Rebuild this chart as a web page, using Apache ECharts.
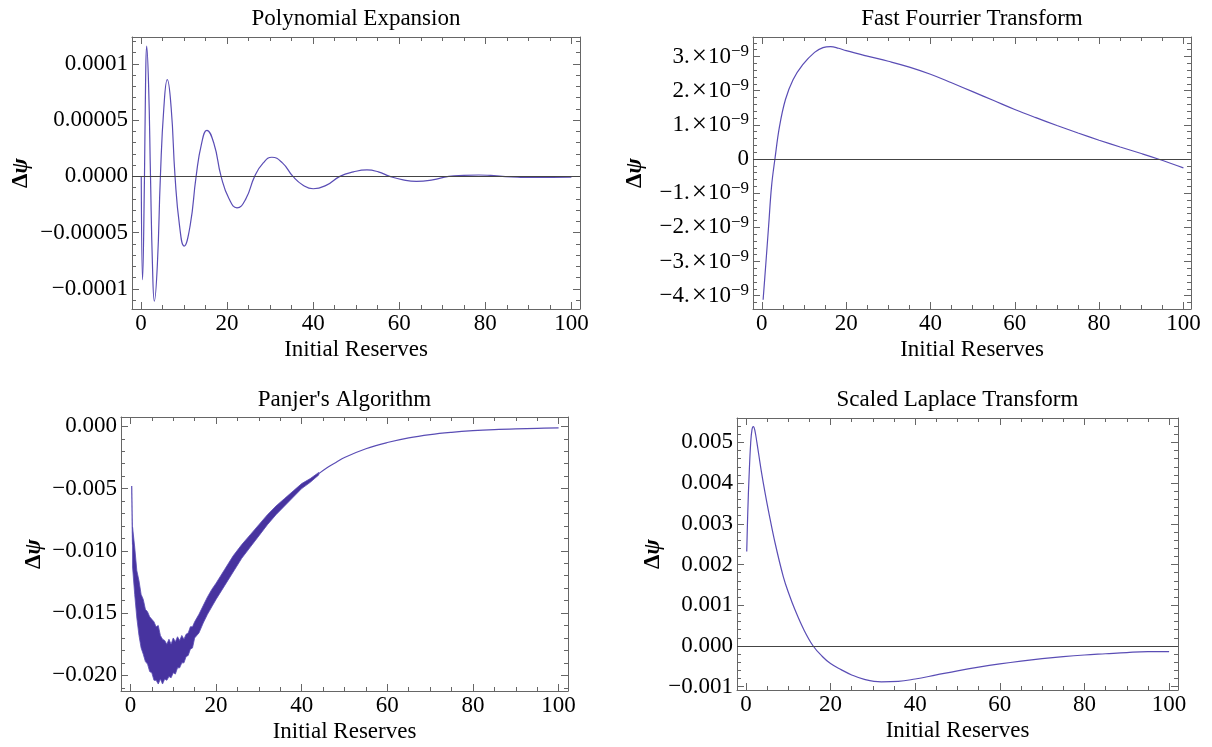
<!DOCTYPE html>
<html>
<head>
<meta charset="utf-8">
<script src="https://cdn.jsdelivr.net/npm/echarts@6.0.0/dist/echarts.min.js"></script>
<style>
  html, body { margin: 0; background: #fff; }
  #chart { width: 1212px; height: 747px; }
</style>
</head>
<body>
<div id="chart"></div>
<script>
// shared x ticks
var xTicks = [0, 20, 40, 60, 80, 100];

// Polynomial Expansion
var polyX = [0.05, 0.35, 0.8, 1.05, 1.31, 1.75, 2.2, 2.65, 3.1, 3.8, 4.5, 5.3, 6.1, 7.0, 7.9, 8.95, 10.0, 11.4, 12.8, 14.05,
  15.3, 16.95, 18.6, 20.45, 22.3, 24.35, 26.4, 28.4, 30.4, 32.85, 35.3, 37.65, 40.0, 43.1, 46.2, 49.35, 52.5, 55.15,
  57.8, 60.9, 64.0, 67.75, 71.5, 75, 78.5, 81.25, 84, 87.5, 91, 95.5, 100];
var polyY = [0, -9.2e-5, 0, 8.2e-5, 11.6e-5, 8.2e-5, 0, -7.8e-5, -11.1e-5, -7.8e-5, 0, 6.1e-5, 8.6e-5, 6.1e-5, 0,
  -4.4e-5, -6.2e-5, -4.4e-5, 0, 2.9e-5, 4.1e-5, 2.9e-5, 0, -2.0e-5, -2.8e-5, -2.0e-5, 0, 1.2e-5, 1.7e-5, 1.2e-5, 0,
  -0.78e-5, -1.1e-5, -0.78e-5, 0, 0.40e-5, 0.57e-5, 0.40e-5, 0, -0.31e-5, -0.44e-5, -0.31e-5, 0, 0.09e-5, 0.12e-5,
  0.08e-5, 0, -0.07e-5, -0.10e-5, -0.09e-5, -0.08e-5];
var polyTicks = [-0.0001, -0.00005, 0, 0.00005, 0.0001];
var polyLabels = ['−0.0001', '−0.00005', '0.0000', '0.00005', '0.0001'];

// Fast Fourrier Transform
var fftX = [0.3, 0.9, 1.6, 2.3, 3.1, 4.2, 5.6, 7.4, 9.7, 12.5, 14.5, 16.3, 18.2, 20, 25, 30, 35, 40, 45, 50, 55, 60, 65,
  70, 75, 80, 85, 90, 94, 100];
var fftY = [-4.12e-9, -3.14e-9, -1.97e-9, -0.8e-9, 0, 0.96e-9, 1.74e-9, 2.32e-9, 2.76e-9, 3.12e-9, 3.26e-9, 3.29e-9,
  3.24e-9, 3.17e-9, 3.01e-9, 2.86e-9, 2.69e-9, 2.48e-9, 2.23e-9, 1.97e-9, 1.71e-9, 1.45e-9, 1.21e-9, 0.98e-9, 0.76e-9,
  0.55e-9, 0.35e-9, 0.16e-9, 0, -0.26e-9];
var fftTicks = [-4e-9, -3e-9, -2e-9, -1e-9, 0, 1e-9, 2e-9, 3e-9];
var fftMantissa = ['−4.', '−3.', '−2.', '−1.', '0', '1.', '2.', '3.'];
var fftExponent = '−9';

// Panjer's Algorithm: noisy band (upper / lower edge), start spike and smooth tail
var panjerX = [0.5, 1, 1.5, 2, 2.5, 3, 3.5, 4, 4.5, 5, 5.5, 6, 6.5, 7, 7.5, 8, 8.5, 9, 9.5, 10, 10.5, 11, 11.5, 12,
  12.5, 13, 13.5, 14, 14.5, 15, 16, 17, 18, 19, 20, 22, 24, 26, 28, 30, 32, 34, 36, 38, 40, 42, 44];
var panjerUpper = [-0.0081, -0.0097, -0.0116, -0.0124, -0.0135, -0.0139, -0.0147, -0.0149, -0.0153, -0.0155, -0.0157,
  -0.0161, -0.0160, -0.0168, -0.0171, -0.0172, -0.0175, -0.0171, -0.0175, -0.0170, -0.0173, -0.0169, -0.0172, -0.0168,
  -0.0171, -0.0167, -0.0166, -0.0161, -0.0161, -0.0157, -0.0151, -0.0144, -0.0137, -0.0131, -0.0126, -0.0115, -0.0104,
  -0.0095, -0.0087, -0.0079, -0.0071, -0.0064, -0.0058, -0.0052, -0.0046, -0.0042, -0.0037];
var panjerLower = [-0.0113, -0.0135, -0.0154, -0.0168, -0.0178, -0.0183, -0.0189, -0.0191, -0.0197, -0.0198, -0.0204,
  -0.0204, -0.0207, -0.0203, -0.0207, -0.0203, -0.0204, -0.0201, -0.0202, -0.0198, -0.0199, -0.0194, -0.0194, -0.0190,
  -0.0190, -0.0185, -0.0184, -0.0179, -0.0178, -0.0170, -0.0166, -0.0158, -0.0151, -0.0145, -0.0139, -0.0128, -0.0117,
  -0.0106, -0.0097, -0.0088, -0.0079, -0.0071, -0.0064, -0.0057, -0.0050, -0.0045, -0.0039];
var panjerSpikeX = [0.3, 0.5];
var panjerSpikeY = [-0.0048, -0.0095];
var panjerTailX = [44, 46, 48, 50, 55, 60, 65, 70, 75, 80, 85, 90, 95, 100];
var panjerTailY = [-0.0038, -0.0033, -0.0029, -0.0025, -0.0018, -0.0013, -0.00092, -0.00066, -0.00048, -0.00035,
  -0.00026, -0.0002, -0.00016, -0.00013];
var panjerTicks = [-0.02, -0.015, -0.01, -0.005, 0];
var panjerLabels = ['−0.020', '−0.015', '−0.010', '−0.005', '0.000'];

// Scaled Laplace Transform
var laplaceX = [0.2, 0.45, 0.75, 1.13, 1.45, 1.77, 2.15, 2.6, 3.1, 3.7, 4.5, 5.3, 6.9, 8.85, 10.2, 11.6, 13.7, 15.9,
  18, 20, 22.5, 25, 28, 32, 36, 40, 45, 50, 55, 60, 65, 70, 75, 80, 85, 90, 95, 100];
var laplaceY = [0.00232, 0.0033, 0.00416, 0.00498, 0.00532, 0.00539, 0.00528, 0.0050, 0.00466, 0.00426, 0.00378,
  0.00334, 0.00253, 0.0017, 0.00127, 0.00089, 0.0004, 0, -0.00025, -0.00043, -0.00058, -0.00071, -0.00082, -0.00088,
  -0.00087, -0.00081, -0.00071, -0.00061, -0.00052, -0.00044, -0.00037, -0.00031, -0.00026, -0.00022, -0.00019,
  -0.00016, -0.00014, -0.00014];
var laplaceTicks = [-0.001, 0, 0.001, 0.002, 0.003, 0.004, 0.005];
var laplaceLabels = ['−0.001', '0.000', '0.001', '0.002', '0.003', '0.004', '0.005'];

var FONT = 'Liberation Serif';
var SIZE = 23;
var CURVE = '#5a4db5';
var BAND = '#47339f';
var FRAME = '#666';

var chart = echarts.init(document.getElementById('chart'));
var grids = [], xAxes = [], yAxes = [], series = [];

function pairs(xs, ys) {
  return xs.map(function (x, i) { return [x, ys[i]]; });
}

function minorTicks(ticks, parts, range) {
  var step = (ticks[1] - ticks[0]) / parts, out = [];
  var k0 = Math.ceil(range[0] / step - 1e-9), k1 = Math.floor(range[1] / step + 1e-9);
  for (var k = k0; k <= k1; k++) {
    if (k % parts !== 0) out.push(k * step);
  }
  return out;
}

function labelFor(ticks, labels) {
  var eps = Math.abs(ticks[1] - ticks[0]) * 1e-6;
  return function (v) {
    for (var i = 0; i < ticks.length; i++) {
      if (Math.abs(ticks[i] - v) < eps) return labels[i];
    }
    return '';
  };
}

function zeroLine() {
  return {
    silent: true, symbol: ['none', 'none'], label: { show: false },
    lineStyle: { color: '#444', width: 1, type: 'solid' },
    data: [{ yAxis: 0 }]
  };
}

function curve(data, smooth, extra) {
  var s = {
    type: 'line', data: data, symbol: 'none', smooth: smooth,
    lineStyle: { color: CURVE, width: 1.2 }
  };
  for (var k in extra) s[k] = extra[k];
  return s;
}

function frameAxis(g, pos, range, values, len, line) {
  return {
    type: 'value', gridIndex: g, position: pos, min: range[0], max: range[1],
    axisLine: { show: line, onZero: false, lineStyle: { color: FRAME, width: 1 } },
    axisTick: { show: true, inside: true, length: len, customValues: values, lineStyle: { color: FRAME, width: 1 } },
    axisLabel: { show: false },
    splitLine: { show: false }
  };
}

var textStyle = { color: '#000', fontFamily: FONT, fontSize: SIZE };

function addPanel(p) {
  var g = grids.length;
  grids.push({ left: p.box[0], top: p.box[1], width: p.box[2], height: p.box[3] });
  var xMinor = minorTicks(xTicks, 4, p.xRange);
  var yMinor = minorTicks(p.yTicks, 5, p.yRange);
  var xi = xAxes.length, yi = yAxes.length;

  var bottom = frameAxis(g, 'bottom', p.xRange, xTicks, 7, true);
  bottom.axisLabel = { show: true, customValues: xTicks, margin: 3, color: '#000', fontFamily: FONT, fontSize: SIZE };
  bottom.name = 'Initial Reserves';
  bottom.nameLocation = 'middle';
  bottom.nameGap = 29;
  bottom.nameTextStyle = textStyle;
  var top = frameAxis(g, 'top', p.xRange, xTicks, 7, true);
  top.name = p.title;
  top.nameLocation = 'middle';
  top.nameGap = p.titleGap;
  top.nameTextStyle = textStyle;
  xAxes.push(bottom, frameAxis(g, 'bottom', p.xRange, xMinor, 4, false),
    top, frameAxis(g, 'top', p.xRange, xMinor, 4, false));

  var left = frameAxis(g, 'left', p.yRange, p.yTicks, 7, true);
  left.axisLabel = {
    show: true, customValues: p.yTicks, margin: 4, color: '#000', fontFamily: FONT, fontSize: SIZE,
    formatter: p.yFormat
  };
  if (p.rich) left.axisLabel.rich = p.rich;
  left.name = '{d|Δ}{p|ψ}';
  left.nameLocation = 'middle';
  left.nameGap = p.nameGap;
  left.nameTextStyle = {
    rich: {
      d: { color: '#000', fontFamily: FONT, fontSize: SIZE, fontWeight: 'bold' },
      p: { color: '#000', fontFamily: FONT, fontSize: SIZE, fontWeight: 'bold', fontStyle: 'italic' }
    }
  };
  yAxes.push(left, frameAxis(g, 'left', p.yRange, yMinor, 4, false),
    frameAxis(g, 'right', p.yRange, p.yTicks, 7, true), frameAxis(g, 'right', p.yRange, yMinor, 4, false));

  p.series.forEach(function (s) {
    s.xAxisIndex = xi;
    s.yAxisIndex = yi;
    series.push(s);
  });
}

addPanel({
  title: 'Polynomial Expansion', titleGap: 7, box: [132, 37, 448, 272], nameGap: 99,
  xRange: [-2.1, 102], yRange: [-1.18e-4, 1.24e-4], yTicks: polyTicks,
  yFormat: labelFor(polyTicks, polyLabels),
  series: [curve(pairs(polyX, polyY), 0.5, { markLine: zeroLine() })]
});

var fftLabel = labelFor(fftTicks, fftMantissa);
addPanel({
  title: 'Fast Fourrier Transform', titleGap: 7, box: [753, 37, 438, 272], nameGap: 106,
  xRange: [-2.1, 101.8], yRange: [-4.39e-9, 3.57e-9], yTicks: fftTicks,
  yFormat: function (v) {
    var m = fftLabel(v);
    if (m === '0') return '{m|0}';
    return '{m|' + m + '}{x|×}{m|10}{s|' + fftExponent + '}';
  },
  rich: {
    m: { color: '#000', fontFamily: FONT, fontSize: SIZE, lineHeight: 27 },
    x: { color: '#000', fontFamily: FONT, fontSize: 27, lineHeight: 27, padding: [0, 1, 0, 2] },
    s: { color: '#000', fontFamily: FONT, fontSize: 17, lineHeight: 18, verticalAlign: 'top' }
  },
  series: [curve(pairs(fftX, fftY), 0.4, { markLine: zeroLine() })]
});

addPanel({
  title: "Panjer's Algorithm", titleGap: 6, box: [121, 417, 447, 274], nameGap: 75,
  xRange: [-2.2, 102.2], yRange: [-0.02126, 0.00075], yTicks: panjerTicks,
  yFormat: labelFor(panjerTicks, panjerLabels),
  series: [
    curve(pairs(panjerSpikeX, panjerSpikeY), false, {}),
    {
      type: 'custom',
      data: pairs(panjerX, panjerUpper),
      renderItem: function (params, api) {
        if (params.dataIndex !== 0) return null;
        var pts = [], i;
        for (i = 0; i < panjerX.length; i++) pts.push(api.coord([panjerX[i], panjerUpper[i]]));
        for (i = panjerX.length - 1; i >= 0; i--) pts.push(api.coord([panjerX[i], panjerLower[i]]));
        return {
          type: 'polygon',
          shape: { points: pts },
          style: { fill: BAND, stroke: CURVE, lineWidth: 0.8 }
        };
      }
    },
    curve(pairs(panjerTailX, panjerTailY), 0.4, {})
  ]
});

addPanel({
  title: 'Scaled Laplace Transform', titleGap: 7, box: [737, 418, 441, 272], nameGap: 70,
  xRange: [-2.1, 102.1], yRange: [-0.00108, 0.0056], yTicks: laplaceTicks,
  yFormat: labelFor(laplaceTicks, laplaceLabels),
  series: [curve(pairs(laplaceX, laplaceY), 0.4, { markLine: zeroLine() })]
});

chart.setOption({
  backgroundColor: '#fff',
  animation: false,
  grid: grids,
  xAxis: xAxes,
  yAxis: yAxes,
  series: series
});
</script>
</body>
</html>
